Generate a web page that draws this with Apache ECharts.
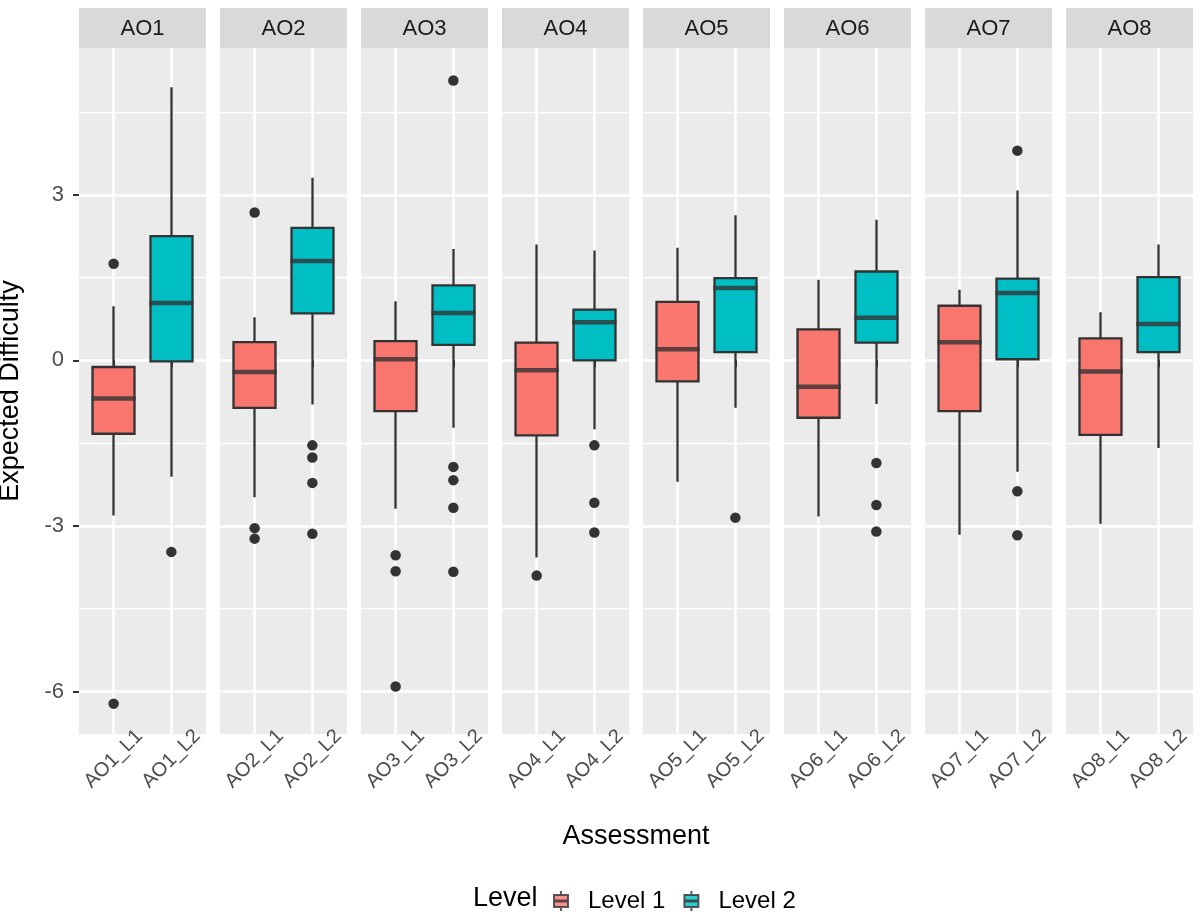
<!DOCTYPE html>
<html>
<head>
<meta charset="utf-8">
<script src="https://cdn.jsdelivr.net/npm/echarts@6/dist/echarts.min.js"></script>
<style>html,body{margin:0;padding:0;background:#fff}#c{width:1204px;height:916px}</style>
</head>
<body>
<div id="c"></div>
<script>
// ---------- data ----------
const panels = ['AO1', 'AO2', 'AO3', 'AO4', 'AO5', 'AO6', 'AO7', 'AO8'];
const categories = ['AO1_L1', 'AO1_L2', 'AO2_L1', 'AO2_L2', 'AO3_L1', 'AO3_L2', 'AO4_L1', 'AO4_L2',
                    'AO5_L1', 'AO5_L2', 'AO6_L1', 'AO6_L2', 'AO7_L1', 'AO7_L2', 'AO8_L1', 'AO8_L2'];
const levels = ['Level 1', 'Level 2'];
const whiskerLow  = [-2.81, -2.11, -2.48, -0.80, -2.69, -1.22, -3.57, -1.25, -2.20, -0.86, -2.83, -0.79, -3.16, -2.02, -2.96, -1.59];
const q1          = [-1.33, -0.02, -0.86,  0.85, -0.92,  0.28, -1.36,  0.00, -0.38,  0.15, -1.04,  0.32, -0.92,  0.02, -1.35,  0.15];
const median      = [-0.69,  1.04, -0.21,  1.80,  0.02,  0.86, -0.18,  0.69,  0.20,  1.31, -0.48,  0.77,  0.33,  1.22, -0.20,  0.66];
const q3          = [-0.12,  2.25,  0.33,  2.40,  0.35,  1.36,  0.32,  0.92,  1.06,  1.49,  0.56,  1.61,  0.99,  1.48,  0.40,  1.51];
const whiskerHigh = [ 0.98,  4.95,  0.78,  3.31,  1.07,  2.02,  2.10,  1.99,  2.04,  2.63,  1.46,  2.55,  1.28,  3.08,  0.87,  2.10];
const outliers = [
  [1.75, -6.22], [-3.47],
  [2.68, -3.04, -3.23], [-1.54, -1.76, -2.22, -3.14],
  [-3.53, -3.82, -5.91], [5.07, -1.93, -2.17, -2.67, -3.83],
  [-3.90], [-1.54, -2.58, -3.12],
  [], [-2.85],
  [], [-1.86, -2.62, -3.10],
  [], [3.80, -2.37, -3.17],
  [], []
];
const yTicks = [-6, -3, 0, 3];
const yMinor = [-4.5, -1.5, 1.5, 4.5];

// ---------- style / layout ----------
const levelColors = ['#F8766D', '#00BFC4'];
const FONT = '"Liberation Sans", Arial, Helvetica, sans-serif';
const PANEL_LEFT0 = 79, PANEL_STEP = 141, PANEL_W = 127, PANEL_TOP = 48, PANEL_H = 686;
const STRIP_TOP = 8, STRIP_H = 40;
const Y_MIN = -6.77, Y_MAX = 5.66;
const X_MIN = 0.4, X_MAX = 2.6;
const INK = '#333333';

const grids = [], xAxes = [], yAxes = [], series = [], graphics = [];

panels.forEach((p, i) => {
  const left = PANEL_LEFT0 + PANEL_STEP * i;
  grids.push({
    left: left, top: PANEL_TOP, width: PANEL_W, height: PANEL_H,
    show: true, backgroundColor: '#EBEBEB', borderWidth: 0, borderColor: 'transparent',
    containLabel: false, outerBoundsMode: 'none'
  });
  xAxes.push({
    gridIndex: i, type: 'value', min: X_MIN, max: X_MAX,
    axisLine: { show: false },
    axisTick: { show: true, customValues: [1, 2], length: 7, lineStyle: { color: INK, width: 2 } },
    axisLabel: {
      customValues: [1, 2],
      formatter: v => categories[i * 2 + Math.round(v) - 1],
      rotate: 45, align: 'center', verticalAlign: 'middle', margin: 25,
      color: '#4D4D4D', fontSize: 20, fontFamily: FONT
    },
    splitLine: { show: true, lineStyle: { color: '#FFFFFF', width: 2.6 } }
  });
  yAxes.push({
    gridIndex: i, type: 'value', min: Y_MIN, max: Y_MAX, position: 'left',
    axisLine: { show: false },
    axisTick: { show: i === 0, customValues: yTicks, length: 6, lineStyle: { color: INK, width: 2 } },
    axisLabel: { show: i === 0, customValues: yTicks, margin: 15, color: '#4D4D4D', fontSize: 22, fontFamily: FONT },
    splitLine: { show: true, lineStyle: { color: '#FFFFFF', width: 2.6 } },
    name: i === 0 ? 'Expected Difficulty' : '',
    nameLocation: 'middle', nameGap: 55,
    nameTextStyle: { color: '#000000', fontSize: 27, fontFamily: FONT }
  });
  yAxes.push({
    gridIndex: i, type: 'value', min: Y_MIN, max: Y_MAX, position: 'right',
    axisLine: { show: false },
    axisTick: { show: false, customValues: yMinor },
    axisLabel: { show: false, customValues: yMinor },
    splitLine: { show: true, lineStyle: { color: '#FFFFFF', width: 1.4 } }
  });

  // box + whiskers
  series.push({
    type: 'candlestick', xAxisIndex: i, yAxisIndex: 2 * i, barWidth: 42,
    silent: true, animation: false,
    itemStyle: { borderWidth: 2.3, borderColor: INK, borderColor0: INK },
    data: [0, 1].map(j => {
      const k = i * 2 + j;
      return {
        value: [j + 1, q1[k], q3[k], whiskerLow[k], whiskerHigh[k]],
        itemStyle: {
          color: levelColors[j], color0: levelColors[j],
          borderColor: INK, borderColor0: INK, borderWidth: 2.3
        }
      };
    })
  });
  // median bars
  series.push({
    type: 'scatter', xAxisIndex: i, yAxisIndex: 2 * i, symbol: 'rect', symbolSize: [44, 4.5],
    silent: true, animation: false, itemStyle: { color: INK }, z: 3,
    data: [0, 1].map(j => [j + 1, median[i * 2 + j]])
  });
  // outliers
  const pts = [];
  [0, 1].forEach(j => outliers[i * 2 + j].forEach(v => pts.push([j + 1, v])));
  series.push({
    type: 'scatter', xAxisIndex: i, yAxisIndex: 2 * i, symbol: 'circle', symbolSize: 10.5,
    silent: true, animation: false, itemStyle: { color: INK, opacity: 1 }, z: 4,
    data: pts
  });

  // strip
  graphics.push({
    type: 'rect', x: left, y: STRIP_TOP, silent: true,
    shape: { x: 0, y: 0, width: PANEL_W, height: STRIP_H },
    style: { fill: '#D9D9D9' }
  });
  graphics.push({
    type: 'text', x: left + PANEL_W / 2, y: STRIP_TOP + STRIP_H / 2 + 1, silent: true,
    style: {
      text: p, fill: '#1A1A1A', font: '22px ' + FONT,
      textAlign: 'center', textVerticalAlign: 'middle', align: 'center', verticalAlign: 'middle'
    }
  });
});

// legend helper series
levels.forEach((name, j) => {
  series.push({ type: 'scatter', name: name, xAxisIndex: 0, yAxisIndex: 0, data: [], itemStyle: { color: levelColors[j] } });
});

const panelsRight = PANEL_LEFT0 + PANEL_STEP * (panels.length - 1) + PANEL_W;
graphics.push({
  type: 'text', x: (PANEL_LEFT0 + panelsRight) / 2, y: 837, silent: true,
  style: { text: 'Assessment', fill: '#000000', font: '27px ' + FONT,
    textAlign: 'center', textVerticalAlign: 'middle', align: 'center', verticalAlign: 'middle' }
});
graphics.push({
  type: 'text', x: 473, y: 899, silent: true,
  style: { text: 'Level', fill: '#000000', font: '27px ' + FONT,
    textAlign: 'left', textVerticalAlign: 'middle', align: 'left', verticalAlign: 'middle' }
});

const chart = echarts.init(document.getElementById('c'), null, { renderer: 'canvas' });
chart.setOption({
  animation: false,
  backgroundColor: '#FFFFFF',
  grid: grids,
  xAxis: xAxes,
  yAxis: yAxes,
  legend: {
    left: 553, top: 889, padding: 0, orient: 'horizontal', selectedMode: false,
    itemWidth: 14, itemHeight: 20, itemGap: 18,
    icon: 'path://M7,0L7,4M0,4L14,4L14,16L0,16ZM0,9.5L14,9.5L14,10.5L0,10.5ZM7,16L7,20',
    itemStyle: { borderColor: INK, borderWidth: 2 },
    textStyle: { fontSize: 24, color: '#000000', fontFamily: FONT, padding: [0, 0, 0, 15] },
    data: levels
  },
  graphic: graphics,
  series: series
});
</script>
</body>
</html>
